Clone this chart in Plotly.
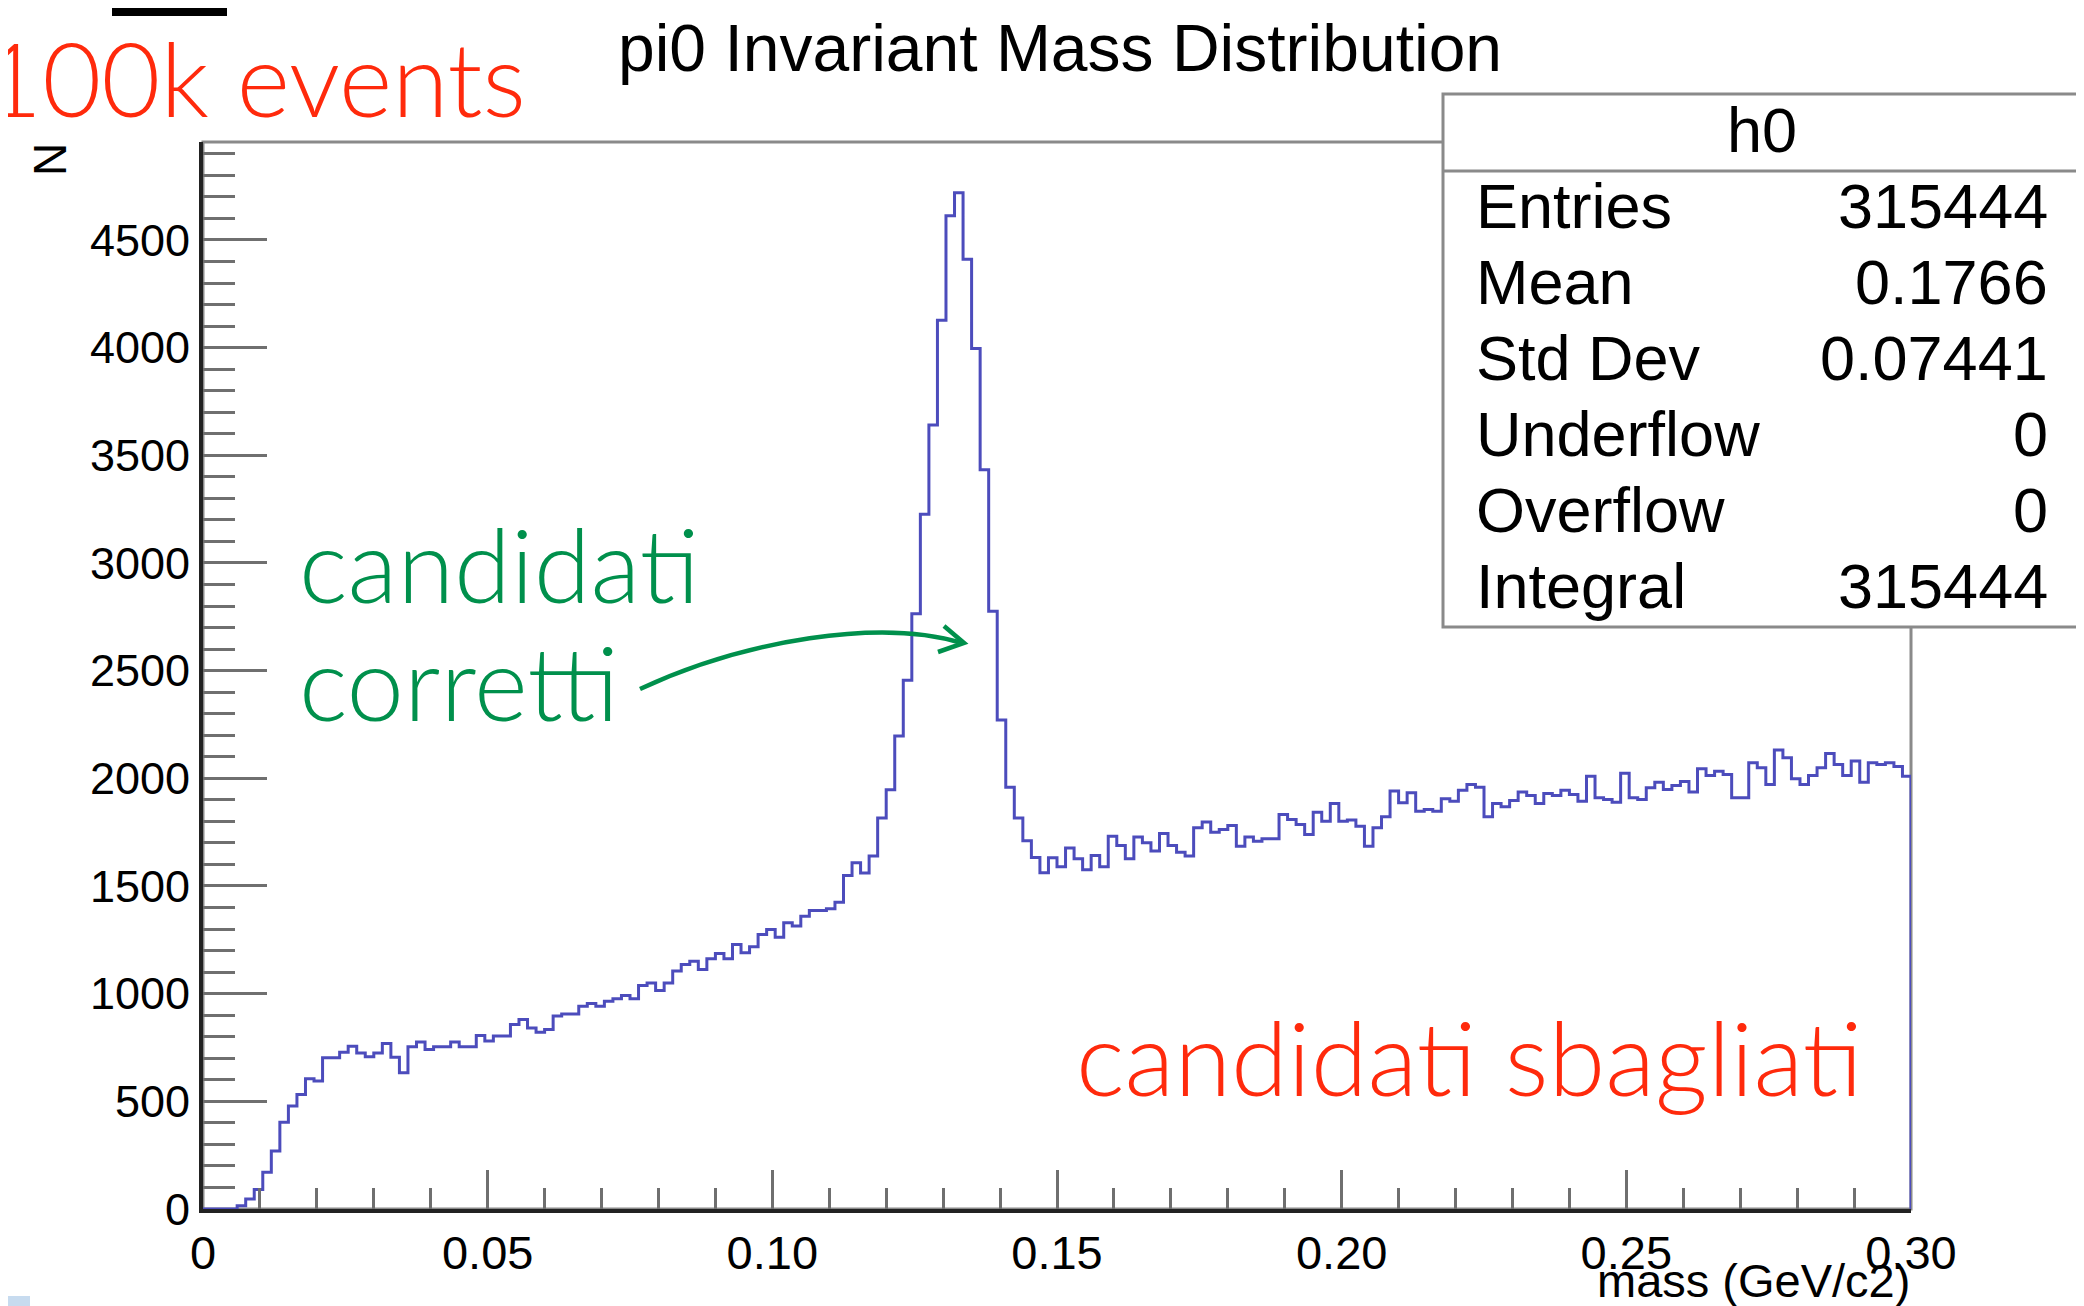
import plotly.graph_objects as go

# histogram h0: 200 bins from 0 to 0.30 GeV/c2
n_bins = 200
mass_min = 0.0
mass_max = 0.30

counts = [
    0, 0, 0, 0, 15, 46, 91, 171, 269, 403,
    478, 532, 605, 594, 702, 702, 728, 756, 725, 707,
    725, 769, 705, 633, 753, 776, 741, 753, 753, 776,
    753, 753, 806, 780, 803, 803, 857, 880, 841, 821,
    834, 896, 906, 906, 942, 954, 942, 965, 976, 992,
    976, 1038, 1050, 1015, 1050, 1105, 1136, 1151, 1112, 1162,
    1187, 1162, 1228, 1190, 1218, 1275, 1298, 1262, 1329, 1314,
    1360, 1386, 1386, 1394, 1425, 1549, 1608, 1560, 1639, 1816,
    1947, 2196, 2456, 2764, 3226, 3641, 4127, 4613, 4719, 4411,
    3996, 3433, 2776, 2271, 1959, 1816, 1710, 1632, 1562, 1631,
    1589, 1677, 1626, 1575, 1642, 1589, 1731, 1688, 1626, 1728,
    1701, 1662, 1744, 1688, 1657, 1639, 1770, 1797, 1750, 1762,
    1781, 1685, 1728, 1708, 1719, 1719, 1832, 1809, 1786, 1739,
    1843, 1801, 1883, 1801, 1806, 1778, 1685, 1770, 1822, 1941,
    1887, 1933, 1847, 1855, 1847, 1905, 1894, 1945, 1971, 1958,
    1822, 1883, 1868, 1897, 1936, 1920, 1883, 1930, 1920, 1945,
    1925, 1894, 2010, 1910, 1902, 1889, 2023, 1910, 1902, 1956,
    1982, 1948, 1967, 1985, 1936, 2044, 2013, 2033, 2018, 1910,
    1910, 2072, 2049, 1971, 2131, 2096, 1998, 1971, 2013, 2049,
    2115, 2064, 2013, 2080, 1982, 2072, 2064, 2072, 2055, 2010,
]

x_tick_vals = [0, 0.05, 0.10, 0.15, 0.20, 0.25, 0.30]
x_tick_text = ["0", "0.05", "0.10", "0.15", "0.20", "0.25", "0.30"]
y_tick_vals = [0, 500, 1000, 1500, 2000, 2500, 3000, 3500, 4000, 4500]

stats_names = ["Entries", "Mean", "Std Dev", "Underflow", "Overflow", "Integral"]
stats_values = ["315444", "0.1766", "0.07441", "0", "0", "315444"]

y_top = 4955

# page size, frame position in page pixels
PAGE_W, PAGE_H = 2084, 1306
OFF = 8  # body margin of the html page
L, R, T, B = 203, 1911, 142, 1209


def px(x):
    return (x - L) / (R - L)


def py(y):
    return (B - y) / (B - T)


bin_w = (mass_max - mass_min) / n_bins
edges = [mass_min + i * bin_w for i in range(n_bins)]

HIST_COLOR = "#4c4cbc"
RED = "#ff2a0c"
GREEN = "#00904c"
FONT = "Liberation Sans, Arial, sans-serif"
LIGHT = "Lato, Roboto, sans-serif"

fig = go.Figure()

fig.add_trace(go.Scatter(
    x=edges + [mass_max, mass_max],
    y=counts + [counts[-1], 0],
    mode="lines",
    line=dict(shape="hv", color=HIST_COLOR, width=3),
    hoverinfo="skip",
    showlegend=False,
))

shapes = [
    # gray frame (top / right)
    dict(type="rect", xref="paper", yref="paper", x0=0, x1=1, y0=0, y1=1,
         line=dict(color="#8a8a8a", width=3), layer="below"),
    # stats box
    dict(type="rect", xref="paper", yref="paper",
         x0=px(1443), x1=px(2081), y0=py(627), y1=py(94),
         line=dict(color="#8a8a8a", width=3), fillcolor="white", layer="above"),
    dict(type="line", xref="paper", yref="paper",
         x0=px(1443), x1=px(2081), y0=py(171), y1=py(171),
         line=dict(color="#8a8a8a", width=3), layer="above"),
    # arrow
    dict(type="path", xref="paper", yref="paper",
         path=f"M {px(640)},{py(689)} C {px(745)},{py(640)} {px(880)},{py(618)} {px(962)},{py(643)}",
         line=dict(color=GREEN, width=4.5), layer="above"),
    dict(type="path", xref="paper", yref="paper",
         path=f"M {px(944)},{py(626)} L {px(964)},{py(643)} L {px(938)},{py(652)}",
         line=dict(color=GREEN, width=4.5), layer="above"),
    # black bar at the top
    dict(type="rect", xref="paper", yref="paper",
         x0=px(112), x1=px(227), y0=py(16), y1=py(-2),
         line=dict(width=0), fillcolor="black", layer="above"),
    # small blue square at bottom left
    dict(type="rect", xref="paper", yref="paper",
         x0=px(2), x1=px(30), y0=py(1308), y1=py(1296),
         line=dict(width=0), fillcolor="#c7dbef", layer="above"),
]

annotations = [
    dict(text="pi0 Invariant Mass Distribution", x=px(1060), y=py(48),
         font=dict(family=FONT, size=66, color="black")),
    dict(text="N", x=px(50), y=py(160), textangle=-90,
         font=dict(family=FONT, size=46, color="black")),
    dict(text="mass (GeV/c2)", x=px(1912), y=py(1280), xanchor="right",
         font=dict(family=FONT, size=47, color="black")),
    dict(text="h0", x=px(1762), y=py(130),
         font=dict(family=FONT, size=63, color="black")),
    dict(text="100k events", x=px(-19), y=py(78), xanchor="left",
         font=dict(family=LIGHT, size=102, color=RED, weight=300)),
    dict(text="candidati", x=px(297), y=py(563), xanchor="left",
         font=dict(family=LIGHT, size=103, color=GREEN, weight=300)),
    dict(text="corretti", x=px(297), y=py(681), xanchor="left",
         font=dict(family=LIGHT, size=103, color=GREEN, weight=300)),
    dict(text="candidati sbagliati", x=px(1074), y=py(1056), xanchor="left",
         font=dict(family=LIGHT, size=103, color=RED, weight=300)),
]

row_y = [206, 282, 358, 434, 510, 586]
for name, val, yy in zip(stats_names, stats_values, row_y):
    annotations.append(dict(text=name, x=px(1474), y=py(yy), xanchor="left",
                            font=dict(family=FONT, size=63, color="black")))
    annotations.append(dict(text=val, x=px(2050), y=py(yy), xanchor="right",
                            font=dict(family=FONT, size=63, color="black")))

for a in annotations:
    a.update(xref="paper", yref="paper", showarrow=False)
    a.setdefault("xanchor", "center")
    a.setdefault("yanchor", "middle")

fig.update_layout(
    width=PAGE_W - OFF, height=PAGE_H - OFF,
    margin=dict(l=L - OFF, r=PAGE_W - R, t=T - OFF, b=PAGE_H - B, pad=0),
    paper_bgcolor="white",
    plot_bgcolor="white",
    showlegend=False,
    shapes=shapes,
    annotations=annotations,
    xaxis=dict(
        range=[mass_min, mass_max],
        tickmode="array", tickvals=x_tick_vals, ticktext=x_tick_text,
        ticks="inside", ticklen=39, tickwidth=3, tickcolor="#6f6f6f",
        minor=dict(dtick=0.01, tick0=0, ticks="inside", ticklen=21,
                   tickwidth=3, tickcolor="#6f6f6f"),
        showgrid=False, zeroline=False,
        showline=True, linecolor="#222222", linewidth=4,
        tickfont=dict(family=FONT, size=47, color="black"),
    ),
    yaxis=dict(
        range=[0, y_top],
        tickmode="array", tickvals=y_tick_vals, tickformat="d",
        ticks="inside", ticklen=64, tickwidth=3, tickcolor="#6f6f6f",
        minor=dict(dtick=100, tick0=0, ticks="inside", ticklen=32,
                   tickwidth=3, tickcolor="#6f6f6f"),
        showgrid=False, zeroline=False,
        showline=True, linecolor="#222222", linewidth=4,
        tickfont=dict(family=FONT, size=45, color="black"),
    ),
)

fig.write_html("out.html")
